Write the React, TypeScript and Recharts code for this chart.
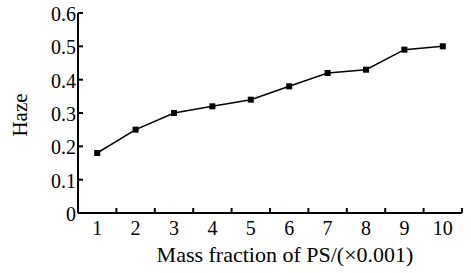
import { LineChart, Line, XAxis, YAxis, Label } from "recharts";

const categories = [1, 2, 3, 4, 5, 6, 7, 8, 9, 10];
const hazeValues = [0.18, 0.25, 0.3, 0.32, 0.34, 0.38, 0.42, 0.43, 0.49, 0.5];
const yTicks = [0, 0.1, 0.2, 0.3, 0.4, 0.5, 0.6];

const data = categories.map((c, i) => ({ x: c, haze: hazeValues[i] }));

const W = 471;
const H = 273;
const margin = { top: 13, right: 9, left: 0, bottom: 0 };
const Y_AXIS_W = 78;
const X_AXIS_H = 60;
const FONT = '"Liberation Serif", "Times New Roman", serif';
const plotW = W - margin.left - margin.right - Y_AXIS_W;
const step = plotW / categories.length;

// x ticks: label at the band center, tick mark at the band's right edge, pointing up
const XTick = ({ x, y, payload }: any) => (
  <g>
    <line x1={x + step / 2} x2={x + step / 2} y1={y} y2={y - 5} stroke="#000" strokeWidth={2} />
    <text x={x} y={y + 22} textAnchor="middle" fontSize={20} fontFamily={FONT} fill="#000">
      {payload.value}
    </text>
  </g>
);

// y ticks point inward (to the right)
const YTick = ({ x, y, payload }: any) => (
  <g>
    {payload.value !== 0 && (
      <line x1={x} x2={x + 5} y1={y} y2={y} stroke="#000" strokeWidth={2} />
    )}
    <text x={x - 2} y={y + 8} textAnchor="end" fontSize={20} fontFamily={FONT} fill="#000">
      {String(payload.value)}
    </text>
  </g>
);

const SquareDot = ({ cx, cy, index }: any) => (
  <rect key={`dot-${index}`} x={cx - 3} y={cy - 3} width={6} height={6} fill="#000" />
);

export default function App() {
  return (
    <div style={{ position: "absolute", left: 0, top: 0, background: "#fff" }}>
      <LineChart width={W} height={H} data={data} margin={margin}>
        <XAxis
          dataKey="x"
          type="number"
          domain={[0.5, 10.5]}
          ticks={categories}
          interval={0}
          height={X_AXIS_H}
          tickSize={0}
          tickMargin={0}
          tickLine={false}
          tick={XTick}
          axisLine={{ stroke: "#000", strokeWidth: 2 }}
        >
          <Label
            content={({ viewBox }: any) => (
              <text
                x={viewBox.x + viewBox.width / 2 + 15}
                y={viewBox.y + 49}
                textAnchor="middle"
                fontSize={22}
                fontFamily={FONT}
                fill="#000"
              >
                Mass fraction of PS/(×0.001)
              </text>
            )}
          />
        </XAxis>
        <YAxis
          type="number"
          domain={[0, 0.6]}
          ticks={yTicks}
          interval={0}
          width={Y_AXIS_W}
          tickSize={0}
          tickMargin={0}
          tickLine={false}
          tick={YTick}
          axisLine={{ stroke: "#000", strokeWidth: 2 }}
        >
          <Label
            content={({ viewBox }: any) => {
              const cx = 27;
              const cy = viewBox.y + viewBox.height / 2 + 2;
              return (
                <text
                  x={cx}
                  y={cy}
                  transform={`rotate(-90, ${cx}, ${cy})`}
                  textAnchor="middle"
                  fontSize={21}
                  fontFamily={FONT}
                  fill="#000"
                >
                  Haze
                </text>
              );
            }}
          />
        </YAxis>
        <Line
          dataKey="haze"
          stroke="#000"
          strokeWidth={1.5}
          dot={SquareDot}
          activeDot={false}
          isAnimationActive={false}
        />
      </LineChart>
    </div>
  );
}
